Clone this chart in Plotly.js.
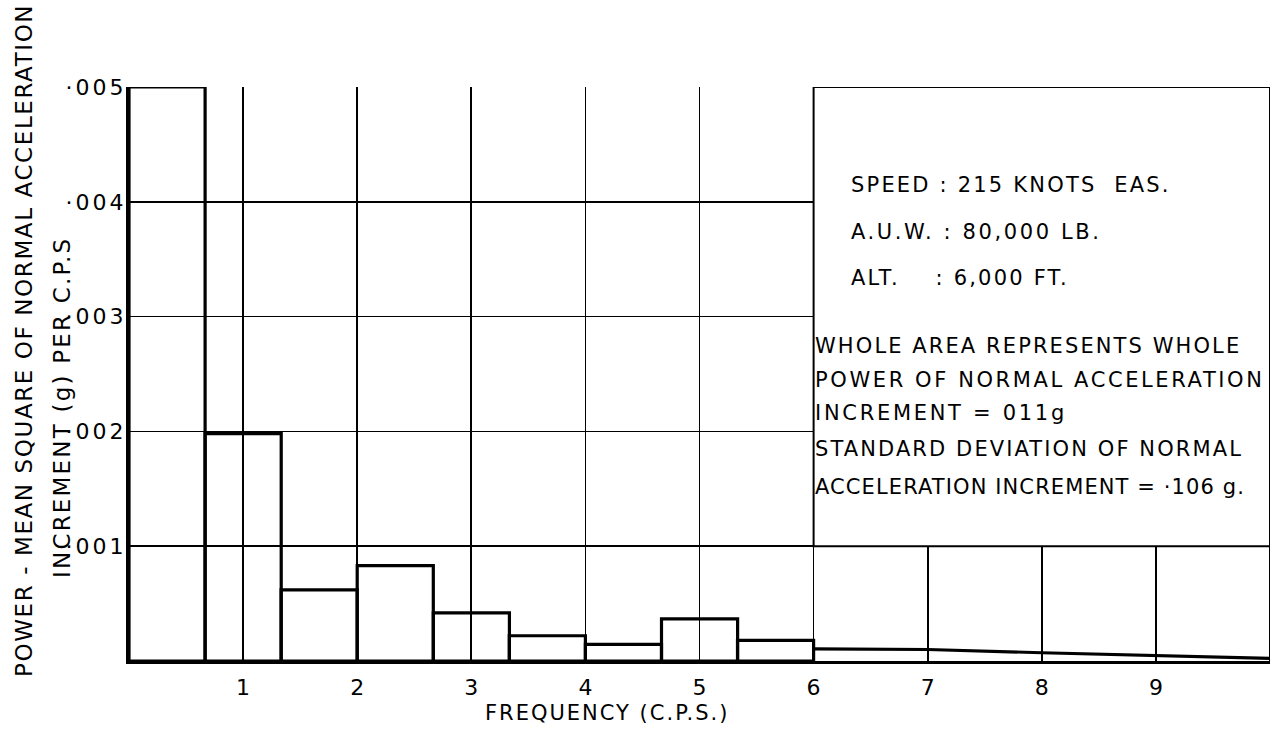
<!DOCTYPE html>
<html>
<head>
<meta charset="utf-8">
<script src="https://cdn.plot.ly/plotly-3.0.1.min.js"></script>
<style>
  html, body { margin: 0; padding: 0; background: #fff; }
  #chart { width: 1275px; height: 730px; }
</style>
</head>
<body>
<div id="chart"></div>
<script>
// ---- data ----
const binStart = [0, 0.667, 1.333, 2.0, 2.667, 3.333, 4.0, 4.667, 5.333];
const binWidth = 0.667;
const power = [0.0050, 0.00198, 0.00062, 0.00083, 0.00042, 0.00022, 0.000145, 0.000367, 0.00018];
const tailFreq = [6, 7, 8, 9, 10];
const tailPower = [0.000105, 0.000100, 0.000072, 0.000045, 0.000022];
const xTickVals = [1, 2, 3, 4, 5, 6, 7, 8, 9];
const yTickVals = [0.001, 0.002, 0.003, 0.004, 0.005];
const yTickText = ['·001', '·002', '·003', '·004', '·005'];
const yTitle1 = 'POWER - MEAN SQUARE OF NORMAL ACCELERATION';
const yTitle2 = 'INCREMENT (g) PER C.P.S';
const xTitle = 'FREQUENCY (C.P.S.)';
const boxTop = ['SPEED : 215 KNOTS  EAS.', 'A.U.W. : 80,000 LB.', 'ALT.    : 6,000 FT.'];
const boxBottom = ['WHOLE AREA REPRESENTS WHOLE', 'POWER OF NORMAL ACCELERATION', 'INCREMENT = 011g',
                   'STANDARD DEVIATION OF NORMAL', 'ACCELERATION INCREMENT = ·106 g.'];

// ---- layout geometry ----
const W = 1275, H = 730;
const M = {l: 129, r: 5, t: 87, b: 69};
const xRange = [0, 10];
const yRange = [0, 0.005];
const px2paperX = px => (px - M.l) / (W - M.l - M.r);
const px2paperY = py => (H - M.b - py) / (H - M.t - M.b);
const FONT = 'DejaVu Sans, Noto Sans, sans-serif';
const spaced = (t, s) => '<span style="letter-spacing:' + s + 'px">' + t + '</span>';

const bars = {
  type: 'bar',
  x: binStart.map(s => s + binWidth / 2),
  y: power,
  width: binWidth,
  marker: {color: 'rgba(0,0,0,0)', line: {color: '#000', width: 3.2}},
  cliponaxis: false,
  hoverinfo: 'x+y'
};
const tail = {
  type: 'scatter', mode: 'lines',
  x: tailFreq, y: tailPower,
  line: {color: '#000', width: 3.2},
  cliponaxis: false
};

const annotations = [];
annotations.push({xref: 'paper', yref: 'paper', x: px2paperX(24), y: px2paperY(341),
  text: spaced(yTitle1, 1.6), textangle: -90, showarrow: false, xanchor: 'center', yanchor: 'middle',
  font: {family: FONT, size: 23, color: '#000'}});
annotations.push({xref: 'paper', yref: 'paper', x: px2paperX(62), y: px2paperY(408),
  text: spaced(yTitle2, 2.2), textangle: -90, showarrow: false, xanchor: 'center', yanchor: 'middle',
  font: {family: FONT, size: 23, color: '#000'}});
annotations.push({xref: 'paper', yref: 'paper', x: px2paperX(607), y: px2paperY(713),
  text: spaced(xTitle, 2), showarrow: false, xanchor: 'center', yanchor: 'middle',
  font: {family: FONT, size: 21, color: '#000'}});
const topY = [185, 232, 278];
const topSp = [2.2, 2.6, 2.2];
boxTop.forEach((t, i) => annotations.push({xref: 'paper', yref: 'paper',
  x: px2paperX(849), y: px2paperY(topY[i]), text: spaced(t, topSp[i]), showarrow: false,
  xanchor: 'left', yanchor: 'middle', font: {family: FONT, size: 21, color: '#000'}}));
const botY = [346, 380, 413, 449, 487];
const botSp = [2.1, 2.6, 2.7, 2.1, 1.1];
boxBottom.forEach((t, i) => annotations.push({xref: 'paper', yref: 'paper',
  x: px2paperX(813), y: px2paperY(botY[i]), text: spaced(t, botSp[i]), showarrow: false,
  xanchor: 'left', yanchor: 'middle', font: {family: FONT, size: 21, color: '#000'}}));

const shapes = [
  // text panel covering the upper right part of the grid
  {type: 'rect', xref: 'x', yref: 'y', x0: 6, x1: xRange[1], y0: yTickVals[0], y1: yRange[1],
   fillcolor: '#fff', line: {color: '#000', width: 2}, layer: 'between'},
  // right edge of the frame
  {type: 'line', xref: 'x', yref: 'y', x0: xRange[1], x1: xRange[1], y0: yRange[0], y1: yRange[1],
   line: {color: '#000', width: 2}}
];

const layout = {
  width: W, height: H,
  margin: M,
  paper_bgcolor: '#fff', plot_bgcolor: '#fff',
  showlegend: false,
  bargap: 0,
  xaxis: {
    range: xRange, tickvals: xTickVals, ticktext: xTickVals.map(String),
    showgrid: true, gridcolor: '#000', gridwidth: 1.6,
    showline: true, linecolor: '#000', linewidth: 3.2,
    ticks: '', ticklabelstandoff: 4, zeroline: false,
    tickfont: {family: FONT, size: 22, color: '#000'}
  },
  yaxis: {
    range: yRange, tickvals: yTickVals, ticktext: yTickText.map(t => spaced(t, 3)),
    showgrid: true, gridcolor: '#000', gridwidth: 1.6,
    showline: true, linecolor: '#000', linewidth: 3.2,
    ticks: '', ticklabelstandoff: -5, zeroline: false,
    tickfont: {family: FONT, size: 22, color: '#000'}
  },
  annotations: annotations,
  shapes: shapes
};

Plotly.newPlot('chart', [bars, tail], layout, {staticPlot: true, displayModeBar: false});
</script>
</body>
</html>
